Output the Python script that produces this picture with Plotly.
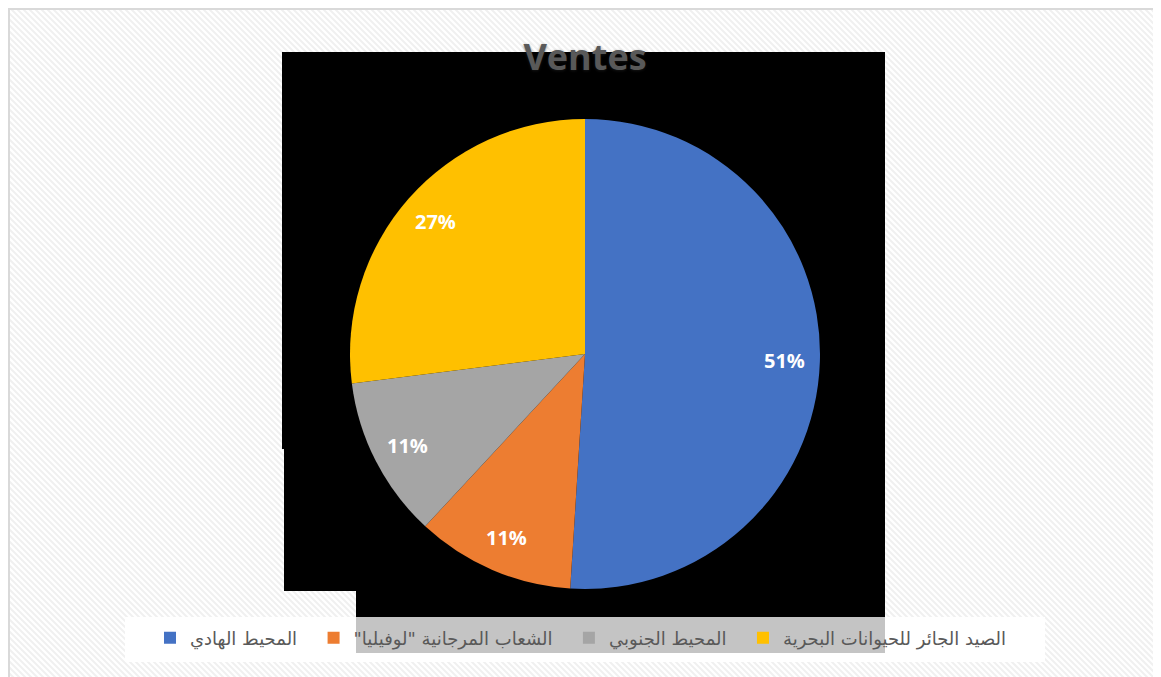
import math
import plotly.graph_objects as go

# the page body adds an 8px margin, so the figure starts at screen (8, 8)
OFF = 8
W, H = 1161 - OFF, 677 - OFF

# data
labels = ["المحيط الهادي", "الشعاب المرجانية \"لوفيليا\"\u200f", "المحيط الجنوبي", "الصيد الجائر للحيوانات البحرية"]
values = [51.0, 10.9, 11.1, 27.0]
colors = ["#4472C4", "#ED7D31", "#A5A5A5", "#FFC000"]
title_text = "Ventes"

# a little trailing space in the legend, Excel spaces its entries wider than plotly
legend_pad = "\u00a0\u00a0"


def px(x):
    # screen x -> paper fraction
    return (x - OFF) / W


def py(y):
    return 1 - (y - OFF) / H


def rect(x0, y0, x1, y1, fill):
    return dict(type="rect", xref="paper", yref="paper", layer="below",
                x0=px(x0), x1=px(x1), y0=py(y1), y1=py(y0),
                fillcolor=fill, line=dict(width=0))


# diagonal hatch background inside the chart border
bx0, by0, bx1, by1 = 8, 8, 1158, 690
segs = []
c = bx0 - by1
while c < bx1 - by0:
    # line x - y = c, clipped to the box
    xa = max(bx0, by0 + c)
    xb = min(bx1, by1 + c)
    if xb > xa:
        segs.append(f"M{px(xa):.5f},{py(xa - c):.5f}L{px(xb):.5f},{py(xb - c):.5f}")
    c += 6
hatch = dict(type="path", xref="paper", yref="paper", layer="below",
             path="".join(segs), line=dict(color="#f0f0f0", width=2))

shapes = [
    hatch,
    dict(type="rect", xref="paper", yref="paper", layer="below",
         x0=px(bx0 + 1), x1=px(bx1), y0=py(by1), y1=py(by0 + 1),
         line=dict(color="#d9d9d9", width=2), fillcolor="rgba(0,0,0,0)"),
    rect(125, 617, 1045, 662, "#ffffff"),
    rect(282, 52, 885, 449, "#000000"),
    rect(284, 448, 885, 591, "#000000"),
    rect(356, 590, 885, 618, "#000000"),
    rect(356, 617, 885, 653, "#c4c4c4"),
]

# pie geometry (screen pixels)
cx, cy, R = 585, 354, 235

fig = go.Figure(go.Pie(
    labels=[lab + legend_pad for lab in labels], values=values,
    sort=False, direction="clockwise", rotation=0,
    marker=dict(colors=colors, line=dict(width=0)),
    textinfo="none", hoverinfo="label+percent",
    domain=dict(x=[px(cx - R), px(cx + R)], y=[py(cy + R), py(cy - R)]),
))

# percentage labels placed along each slice's mid angle
total = sum(values)
annotations = []
acc = 0
for v in values:
    mid = (acc + v / 2) / total * 2 * math.pi
    acc += v
    r = 0.85 * R
    annotations.append(dict(
        x=px(cx + r * math.sin(mid)), y=py(cy - r * math.cos(mid)),
        xref="paper", yref="paper", xanchor="center", yanchor="middle", showarrow=False,
        text=f"{round(v / total * 100)}%",
        font=dict(family="Open Sans", size=20, color="#ffffff", weight="bold"),
    ))

fig.update_layout(
    width=W, height=H,
    margin=dict(l=0, r=0, t=0, b=0),
    paper_bgcolor="#ffffff",
    title=dict(text=title_text, x=px(585), xanchor="center", y=py(57), yanchor="middle",
               font=dict(family="Open Sans", size=36, color="#595959", weight="bold",
                         shadow="0px 1px 3px rgba(40,40,40,0.5)")),
    shapes=shapes,
    annotations=annotations,
    showlegend=True,
    legend=dict(orientation="h", x=px(150), xanchor="left", y=py(638), yanchor="middle",
                bgcolor="rgba(0,0,0,0)", traceorder="normal",
                font=dict(family="DejaVu Sans", size=18, color="#595959")),
)

fig.write_html("out.html")
